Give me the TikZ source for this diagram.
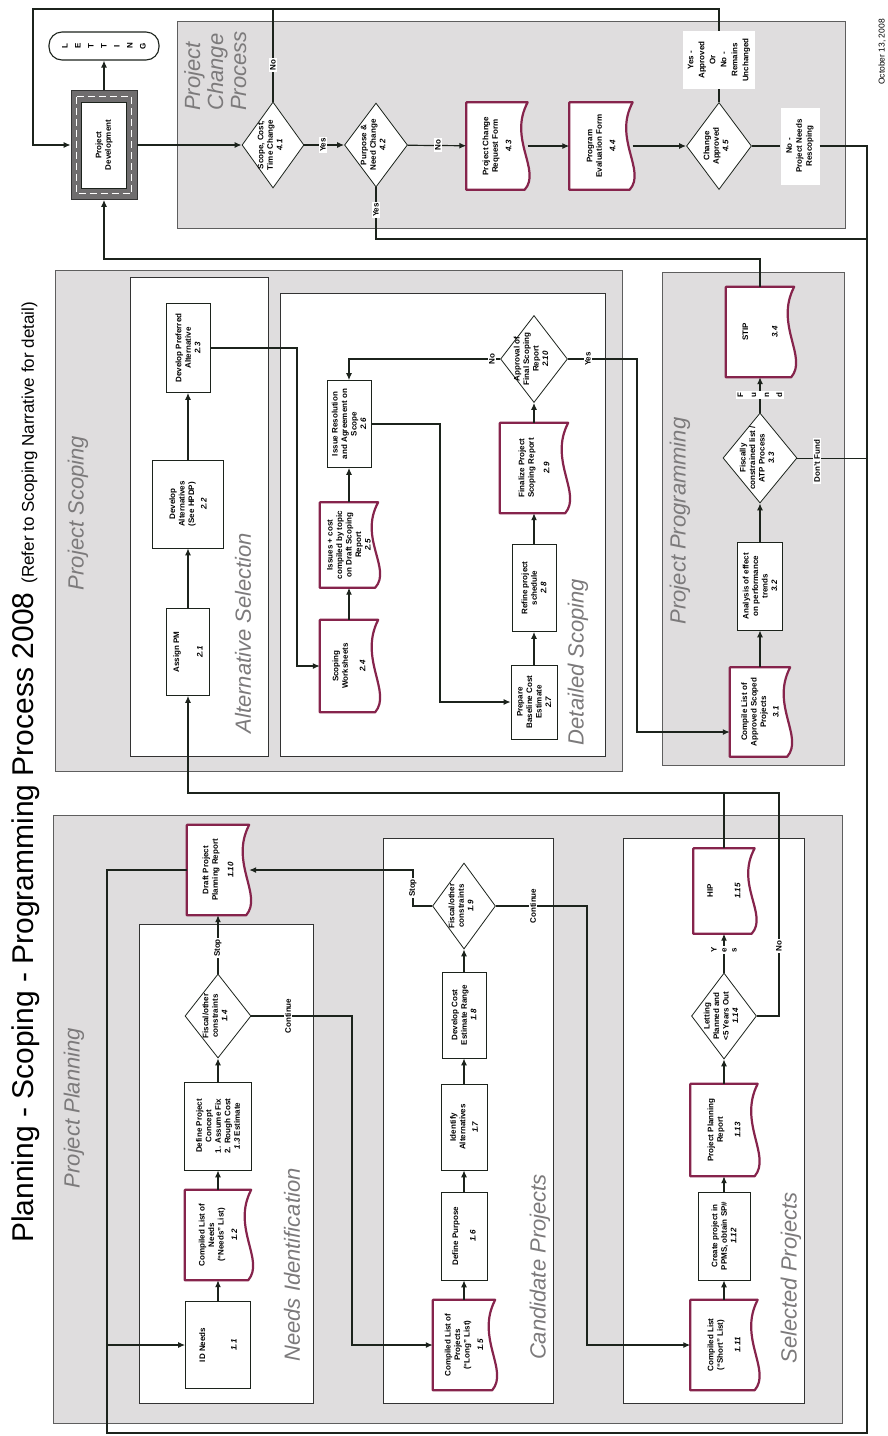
\documentclass[tikz,border=0pt]{standalone}
\usepackage{fontspec}
\setmainfont{Liberation Sans}
\setsansfont{Liberation Sans}
\usetikzlibrary{arrows.meta, positioning, calc, shapes.geometric, fit}
\tikzset{every node/.style={font=\sffamily}}
\usepackage{xcolor}
\definecolor{panelgray}{HTML}{DFDDDE}
\definecolor{edgegray}{HTML}{5E5E5E}
\definecolor{docred}{HTML}{86244C}
\definecolor{labelgray}{HTML}{7C7A7B}
\definecolor{flowblack}{HTML}{1C231C}
\definecolor{pdgray}{HTML}{6F6D6E}
\pgfdeclarelayer{panels}
\pgfdeclarelayer{docs}
\pgfsetlayers{panels,docs,main}
\newcommand\boxfont{\fontsize{8}{9.5}\selectfont\bfseries}
\newcommand\tagfont{\fontsize{8}{10}\selectfont\bfseries}
\newcommand\refno[1]{\textit{#1}}
\newcommand\dtext[1]{\smash{\makebox[0pt]{\begin{tabular}{@{}c@{}}#1\end{tabular}}}}
\newcommand\docframe[1]{%
  \begin{pgfonlayer}{docs}
    \draw[docline] (#1.north west) -- (#1.north east) -- (#1.south east)
      .. controls ($(#1.south east)!.42!(#1.south west)+(-20,0)$) and ($(#1.south east)!.78!(#1.south west)+(14,0)$)
      .. ($(#1.south west)+(-3,0)$) -- cycle;
  \end{pgfonlayer}}

\begin{document}
\begin{tikzpicture}[x=1pt, y=-1pt,
  panel/.style={fill=panelgray, draw=edgegray, line width=0.8pt},
  lane/.style={fill=white, draw=black!80, line width=0.8pt},
  procbox/.style={rotate=90, draw=flowblack, fill=white, line width=0.7pt, align=center, inner sep=1pt, font=\boxfont},
  docbox/.style={rotate=90, align=center, inner sep=1pt, font=\boxfont},
  docline/.style={draw=docred, line width=2.2pt, fill=white, line join=round},
  decision/.style={diamond, rotate=90, draw=flowblack, fill=white, line width=0.8pt, inner sep=0pt, font=\boxfont},
  boxsz/.style 2 args={minimum height=#1, minimum width=#2},
  flowtag/.style={rotate=90, fill=white, inner sep=1.5pt, align=center, font=\tagfont},
  zone/.style={rotate=90, inner sep=0pt, text=labelgray, font=\fontsize{22}{23}\selectfont\itshape},
  link/.style={draw=flowblack, line width=1.2pt},
  flowarrow/.style={link, -{Latex[length=7pt, width=6pt]}}]
\useasboundingbox (0,0) rectangle (887,1436);

\begin{pgfonlayer}{panels}
  \fill[white] (0,0) rectangle (887,1436);
  \draw[panel] (177,21) rectangle (845,228);
  \draw[panel] (55,270) rectangle (622,771);
  \draw[panel] (662,272) rectangle (844,765);
  \draw[panel] (53,815) rectangle (842,1423);
  \draw[lane] (130,277) rectangle (268,756);
  \draw[lane] (280,293) rectangle (605,756);
  \draw[lane] (139,924) rectangle (313,1403);
  \draw[lane] (383,838) rectangle (553,1403);
  \draw[lane] (623,838) rectangle (804,1403);
\end{pgfonlayer}

\node[rotate=90, anchor=base west, inner sep=0pt] (title) at (34,1243) {\fontsize{30}{32}\selectfont Planning - Scoping - Programming Process 2008\hspace{9pt}\fontsize{17}{19}\selectfont(Refer to Scoping Narrative for detail)};
\node[rotate=90, inner sep=0pt, font=\fontsize{8.5}{10}\selectfont] (date) at (882,52) {October 13, 2008};

% section names
\node[zone, align=left, anchor=north west, font=\fontsize{22}{23}\selectfont\itshape] (lblchange) at (184,111) {Project\\Change\\Process};
\node[zone] (lblscoping) at (78,513) {Project Scoping};
\node[zone] (lblalt) at (243,633) {Alternative Selection};
\node[zone] (lbldetail) at (578,662) {Detailed Scoping};
\node[zone] (lblprog) at (680,521) {Project Programming};
\node[zone] (lblplan) at (74,1108) {Project Planning};
\node[zone] (lblneeds) at (292,1265) {Needs Identification};
\node[zone] (lblcand) at (540,1267) {Candidate Projects};
\node[zone] (lblsel) at (791,1278) {Selected Projects};

% project change process
\node[rotate=90, draw=flowblack, fill=white, line width=1.1pt, rounded corners=13pt, minimum width=28pt, minimum height=110pt, inner sep=0pt, align=center, font=\fontsize{8}{13}\selectfont\bfseries] (letting) at (104,46) {L\\E\\T\\T\\I\\N\\G};
\node[rotate=90, fill=pdgray, draw=black!80, line width=0.8pt, minimum width=109pt, minimum height=66pt] (pdframe) at (104,145) {};
\node[rotate=90, draw=white, line width=1.2pt, dash pattern=on 7pt off 4pt, minimum width=97pt, minimum height=55pt] (pddash) at (104,145) {};
\node[procbox, boxsz={45pt}{86pt}] (pd) at (104,145) {Project\\Development};
\node[decision, boxsz={62pt}{86pt}] (d41) at (273,145) {\dtext{Scope, Cost,\\Time Change\\\refno{4.1}}};
\node[decision, boxsz={63pt}{84pt}] (d42) at (376,145) {\dtext{Purpose \&\\Need Change\\\refno{4.2}}};
\node[docbox, boxsz={61pt}{87pt}] (f43) at (497,146) {Project Change\\Request Form\\[4pt]\refno{4.3}}; \docframe{f43}
\node[docbox, boxsz={63pt}{87pt}] (f44) at (601,146) {Program\\Evaluation Form\\[4pt]\refno{4.4}}; \docframe{f44}
\node[decision, boxsz={65pt}{87pt}] (d45) at (719,146) {\dtext{Change\\Approved\\\refno{4.5}}};
\node[flowtag, boxsz={72pt}{58pt}, font=\fontsize{8}{11}\selectfont\bfseries] (okflag) at (719,60) {Yes -\\Approved\\Or\\No -\\Remains\\Unchanged};
\node[flowtag, boxsz={39pt}{77pt}] (rescope) at (800,146) {No -\\Project Needs\\Rescoping};

% project scoping
\node[procbox, boxsz={43pt}{87pt}] (n21) at (188,652) {Assign PM\\[14pt]\refno{2.1}};
\node[procbox, boxsz={71pt}{88pt}] (n22) at (188,504) {Develop\\Alternatives\\(See HPDP)\\[3pt]\refno{2.2}};
\node[procbox, boxsz={44pt}{89pt}] (n23) at (188,348) {Develop Preferred\\Alternative\\\refno{2.3}};
\node[docbox, boxsz={58pt}{92pt}] (n24) at (349,666) {Scoping\\Worksheets\\[8pt]\refno{2.4}}; \docframe{n24}
\node[docbox, boxsz={58pt}{85pt}] (n25) at (349,545) {Issues + cost\\compiled by topic\\on Draft Scoping\\Report\\\refno{2.5}}; \docframe{n25}
\node[procbox, boxsz={44pt}{87pt}] (n26) at (349,424) {Issue Resolution\\and Agreement on\\Scope\\\refno{2.6}};
\node[decision, boxsz={67pt}{87pt}] (d210) at (534,359) {\dtext{Approval of\\Final Scoping\\Report\\\refno{2.10}}};
\node[procbox, boxsz={46pt}{74pt}] (n27) at (534,702) {Prepare\\Baseline Cost\\Estimate\\\refno{2.7}};
\node[procbox, boxsz={44pt}{87pt}] (n28) at (534,588) {Refine project\\schedule\\\refno{2.8}};
\node[docbox, boxsz={68pt}{90pt}] (n29) at (534,468) {Finalize Project\\Scoping Report\\[6pt]\refno{2.9}}; \docframe{n29}

% project programming
\node[docbox, boxsz={60pt}{89pt}] (n31) at (760,712) {Compile List of\\Approved Scoped\\Projects\\[3pt]\refno{3.1}}; \docframe{n31}
\node[procbox, boxsz={45pt}{88pt}] (n32) at (760,586) {Analysis of effect\\on performance\\trends\\\refno{3.2}};
\node[decision, boxsz={74pt}{90pt}] (d33) at (760,458) {\dtext{Fiscally\\constrained list /\\ATP Process\\\refno{3.3}}};
\node[docbox, boxsz={68pt}{90pt}] (stip) at (760,332) {STIP\\[20pt]\refno{3.4}}; \docframe{stip}

% project planning
\node[docbox, boxsz={62pt}{90pt}] (n110) at (218,870) {Draft Project\\Planning Report\\[6pt]\refno{1.10}}; \docframe{n110}
\node[procbox, boxsz={65pt}{87pt}] (n11) at (218,1345) {ID Needs\\[22pt]\refno{1.1}};
\node[docbox, boxsz={66pt}{90pt}] (n12) at (218,1235) {Compiled List of\\Needs\\(``Needs'' List)\\[4pt]\refno{1.2}}; \docframe{n12}
\node[procbox, boxsz={67pt}{88pt}] (n13) at (218,1126) {Define Project\\Concept\\1. Assume Fix\\2. Rough Cost\\\refno{1.3} Estimate};
\node[decision, boxsz={66pt}{84pt}] (d14) at (218,1016) {\dtext{Fiscal/other\\constraints\\\refno{1.4}}};
\node[docbox, boxsz={62pt}{90pt}] (n15) at (464,1345) {Compiled List of\\Projects\\(``Long'' List)\\[4pt]\refno{1.5}}; \docframe{n15}
\node[procbox, boxsz={46pt}{88pt}] (n16) at (464,1236) {Define Purpose\\[8pt]\refno{1.6}};
\node[procbox, boxsz={46pt}{86pt}] (n17) at (464,1127) {Identify\\Alternatives\\[3pt]\refno{1.7}};
\node[procbox, boxsz={44pt}{86pt}] (n18) at (464,1015) {Develop Cost\\Estimate Range\\\refno{1.8}};
\node[decision, boxsz={63pt}{86pt}] (d19) at (464,906) {\dtext{Fiscal/other\\constraints\\\refno{1.9}}};
\node[docbox, boxsz={67pt}{90pt}] (n111) at (724,1345) {Compiled List\\(``Short'' List)\\[8pt]\refno{1.11}}; \docframe{n111}
\node[procbox, boxsz={52pt}{88pt}] (n112) at (724,1236) {Create project in\\PPMS, obtain SP\#\\\refno{1.12}};
\node[docbox, boxsz={67pt}{92pt}] (n113) at (724,1130) {Project Planning\\Report\\[8pt]\refno{1.13}}; \docframe{n113}
\node[decision, boxsz={65pt}{86pt}] (d114) at (724,1016) {\dtext{Letting\\Planned and\\<5 Years Out\\\refno{1.14}}};
\node[docbox, boxsz={61pt}{85pt}] (n115) at (724,891) {HIP\\[18pt]\refno{1.15}}; \docframe{n115}

% turning points
\coordinate (loopNW) at (33,9);
\coordinate (stipturn) at (104,259);
\coordinate (yesturn) at (867,239);
\coordinate (loopSE) at (867,1433);
\coordinate (loopSW) at (107,1433);
\coordinate (planturn) at (107,870);
\coordinate (altturn) at (297,666);
\coordinate (issueturn) at (440,702);
\coordinate (approvedturn) at (637,732);
\coordinate (contturn) at (352,1345);
\coordinate (stopturn) at (413,870);
\coordinate (cont2turn) at (587,1345);
\coordinate (hipturn) at (779,793);
\coordinate (pmturn) at (188,793);

% connectors
\draw[flowarrow] (pdframe) -- (letting);
\draw[flowarrow] (pdframe) -- (d41);
\draw[flowarrow] (d41) -- (d42);
\draw[flowarrow] (d42) -- (f43);
\draw[flowarrow] (f43) -- (f44);
\draw[flowarrow] (f44) -- (d45);
\draw[link] (d41) -- (d41 |- loopNW);
\draw[link] (d45) -- (okflag);
\draw[flowarrow] (okflag.east) |- (loopNW) |- (pdframe);
\draw[link] (d42) |- (yesturn);
\draw[link] (d45) -- (rescope);
\draw[link] (rescope) -| (loopSE) -- (loopSW) -- (planturn);
\draw[flowarrow] (stip) |- (stipturn) -- (pdframe);

\draw[flowarrow] (n21) -- (n22);
\draw[flowarrow] (n22) -- (n23);
\draw[flowarrow] (n23.south) -| (altturn) -- (n24);
\draw[flowarrow] (n24) -- (n25);
\draw[flowarrow] (n25) -- (n26);
\draw[flowarrow] (n26.south) -| (issueturn) -- (n27);
\draw[flowarrow] (n27) -- (n28);
\draw[flowarrow] (n28) -- (n29);
\draw[flowarrow] (n29) -- (d210);
\draw[flowarrow] (d210) -| (n26);
\draw[flowarrow] (d210) -| (approvedturn) -- (approvedturn -| n31.north);

\draw[flowarrow] (n31) -- (n32);
\draw[flowarrow] (n32) -- (d33);
\draw[flowarrow] (d33) -- (stip);
\draw[draw=flowblack, line width=0.6pt] (d33) -- (d33 -| loopSE);

\draw[flowarrow] (n110) -- (planturn) |- (n11);
\draw[flowarrow] (n11) -- (n12);
\draw[flowarrow] (n12) -- (n13);
\draw[flowarrow] (n13) -- (d14);
\draw[flowarrow] (d14) -- (n110);
\draw[flowarrow] (d14) -| (contturn) -- (n15);
\draw[flowarrow] (n15) -- (n16);
\draw[flowarrow] (n16) -- (n17);
\draw[flowarrow] (n17) -- (n18);
\draw[flowarrow] (n18) -- (d19);
\draw[flowarrow] (d19) -| (stopturn) -- (n110);
\draw[flowarrow] (d19) -| (cont2turn) -- (n111);
\draw[flowarrow] (n111) -- (n112);
\draw[flowarrow] (n112) -- (n113);
\draw[flowarrow] (n113) -- (d114);
\draw[flowarrow] (d114) -- (n115);
\draw[flowarrow] (d114) -| (hipturn) -- (pmturn) -- (n21);
\draw[link] (n115) -- (n115 |- hipturn);

% connector labels
\node[flowtag] (t41no) at (273,65) {No};
\node[flowtag] (t41yes) at (323,145) {Yes};
\node[flowtag] (t42no) at (438,145) {No};
\node[flowtag] (t42yes) at (376,210) {Yes};
\node[flowtag] (t210no) at (492,359) {No};
\node[flowtag] (t210yes) at (588,359) {Yes};
\node[flowtag, font=\fontsize{8}{13}\selectfont\bfseries] (tfund) at (760,395) {F\\u\\n\\d};
\node[flowtag] (tdontfund) at (817,461) {Don't Fund};
\node[flowtag] (t14stop) at (218,948) {Stop};
\node[flowtag] (t14cont) at (288,1016) {Continue};
\node[flowtag] (t19stop) at (413,888) {Stop};
\node[flowtag] (t19cont) at (533,906) {Continue};
\node[flowtag, font=\fontsize{8}{10}\selectfont\bfseries] (t114yes) at (724,950) {Y\\e\\s};
\node[flowtag] (t114no) at (779,946) {No};
\end{tikzpicture}
\end{document}
